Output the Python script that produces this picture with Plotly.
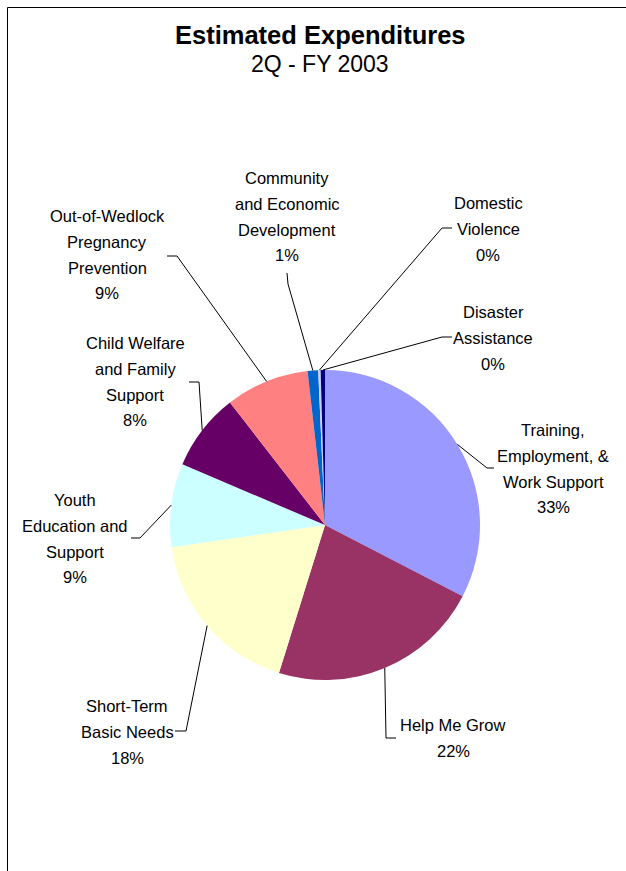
import math
import plotly.graph_objects as go

# ---- data ----
categories = [
    "Training, Employment, & Work Support",
    "Help Me Grow",
    "Short-Term Basic Needs",
    "Youth Education and Support",
    "Child Welfare and Family Support",
    "Out-of-Wedlock Pregnancy Prevention",
    "Community and Economic Development",
    "Domestic Violence",
    "Disaster Assistance",
]
values = [32.6, 22.2, 17.9, 8.7, 8.1, 8.7, 1.1, 0.25, 0.45]
label_lines = [
    ["Training,", "Employment, &", "Work Support"],
    ["Help Me Grow"],
    ["Short-Term", "Basic Needs"],
    ["Youth", "Education and", "Support"],
    ["Child Welfare", "and Family", "Support"],
    ["Out-of-Wedlock", "Pregnancy", "Prevention"],
    ["Community", "and Economic", "Development"],
    ["Domestic", "Violence"],
    ["Disaster", "Assistance"],
]
colors = ["#9999FF", "#993366", "#FFFFCC", "#CCFFFF", "#660066",
          "#FF8080", "#0066CC", "#CCCCFF", "#000080"]

# ---- layout constants (pixels) ----
W, H = 626, 871
CX, CY, R = 325, 525, 155
# label block: (x center, first line y center)
label_pos = [(553, 430), (453, 725), (127, 706), (75, 500), (135, 343),
             (107, 216), (287, 178), (488, 203), (493, 312)]
LINE_GAP = 25.8
# leader: elbow point, end point
leaders = [((487, 468), (494, 468)),
           ((386, 738), (396, 738)),
           ((186, 731), (175, 731)),
           ((140, 538), (131, 538)),
           ((199, 382), (189, 382)),
           ((177, 256), (167, 256)),
           ((288, 284), (287, 273)),
           ((442, 228), (452, 228)),
           ((442, 337), (452, 337))]

def px(x):
    return x / W

def py(y):
    return 1 - y / H

fig = go.Figure()
fig.add_trace(go.Pie(
    labels=categories, values=values, sort=False, direction="clockwise",
    rotation=0, marker=dict(colors=colors, line=dict(width=0)),
    textinfo="none", textposition="none", hoverinfo="label+percent",
    domain=dict(x=[px(CX - R), px(CX + R)], y=[py(CY + R), py(CY - R)]),
    showlegend=False,
))

total = sum(values)
cum = 0.0
shapes = []
annotations = []
font = dict(family="Liberation Sans, Arial, sans-serif", size=16.5, color="#000000")
for i, v in enumerate(values):
    theta = 2 * math.pi * (cum + v / 2) / total
    cum += v
    ax = CX + R * math.sin(theta)
    ay = CY - R * math.cos(theta)
    (ex, ey), (tx, ty) = leaders[i]
    path = f"M {px(ax)},{py(ay)} L {px(ex)},{py(ey)} L {px(tx)},{py(ty)}"
    shapes.append(dict(type="path", xref="paper", yref="paper", path=path,
                       line=dict(color="#000000", width=1)))
    pct = f"{round(v / total * 100):d}%"
    lines = label_lines[i] + [pct]
    lx, ly = label_pos[i]
    for k, t in enumerate(lines):
        annotations.append(dict(text=t, x=px(lx), y=py(ly + k * LINE_GAP),
                                xref="paper", yref="paper", showarrow=False,
                                xanchor="center", yanchor="middle", font=font))

annotations.append(dict(text="<b>Estimated Expenditures</b>", x=px(320.5), y=py(35),
                        xref="paper", yref="paper", showarrow=False,
                        xanchor="center", yanchor="middle",
                        font=dict(family="Liberation Sans, Arial, sans-serif", size=25.5, color="#000000")))
annotations.append(dict(text="2Q - FY 2003", x=px(320), y=py(64),
                        xref="paper", yref="paper", showarrow=False,
                        xanchor="center", yanchor="middle",
                        font=dict(family="Liberation Sans, Arial, sans-serif", size=23, color="#000000")))

# outer frame (right and bottom edges fall outside the page)
shapes.append(dict(type="rect", xref="paper", yref="paper",
                   x0=px(7.5), y0=py(900), x1=px(660), y1=py(7.5),
                   line=dict(color="#000000", width=1)))

fig.update_layout(
    width=W, height=H, margin=dict(l=0, r=0, t=0, b=0),
    paper_bgcolor="#FFFFFF", plot_bgcolor="#FFFFFF",
    shapes=shapes, annotations=annotations, showlegend=False,
)
fig.write_html("out.html", config={"displayModeBar": False},
               post_script="document.body.style.margin='0';document.body.style.overflow='hidden';")
